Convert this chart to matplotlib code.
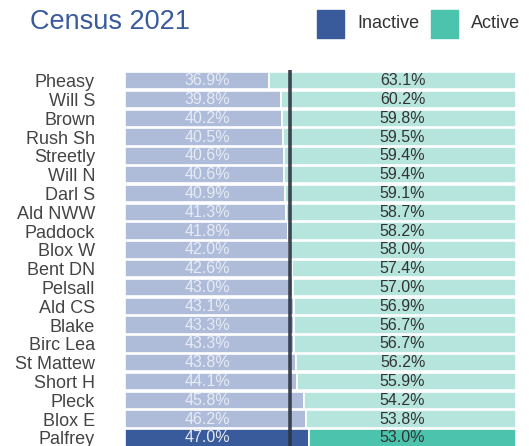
"""Census 2021: inactive vs active share by ward, 100% stacked horizontal bars."""

import matplotlib
matplotlib.use("Agg")
import matplotlib.pyplot as plt
from matplotlib.patches import Rectangle

plt.rcParams["font.family"] = ["Liberation Sans", "DejaVu Sans"]

wards = ["Pheasy", "Will S", "Brown", "Rush Sh", "Streetly", "Will N", "Darl S",
         "Ald NWW", "Paddock", "Blox W", "Bent DN", "Pelsall", "Ald CS", "Blake",
         "Birc Lea", "St Mattew", "Short H", "Pleck", "Blox E", "Palfrey"]
inactive = [36.9, 39.8, 40.2, 40.5, 40.6, 40.6, 40.9, 41.3, 41.8, 42.0,
            42.6, 43.0, 43.1, 43.3, 43.3, 43.8, 44.1, 45.8, 46.2, 47.0]
active = [63.1, 60.2, 59.8, 59.5, 59.4, 59.4, 59.1, 58.7, 58.2, 58.0,
          57.4, 57.0, 56.9, 56.7, 56.7, 56.2, 55.9, 54.2, 53.8, 53.0]
average = 42.2
highlight = "Palfrey"

DARK_IN, LIGHT_IN = "#3a5b9b", "#afbcd9"
DARK_ACT, LIGHT_ACT = "#4bc3ad", "#b5e5dc"

W, H = 529, 446
fig = plt.figure(figsize=(W / 100, H / 100), dpi=100)
ax = fig.add_axes([125 / W, 0, 391 / W, (446 - 70) / H])

ypos = list(range(len(wards)))
c_in = [DARK_IN if w == highlight else LIGHT_IN for w in wards]
c_act = [DARK_ACT if w == highlight else LIGHT_ACT for w in wards]
ax.barh(ypos, inactive, height=0.92, color=c_in, edgecolor="white", linewidth=1.2)
ax.barh(ypos, active, left=inactive, height=0.92, color=c_act,
        edgecolor="white", linewidth=1.2)

for y, a, b in zip(ypos, inactive, active):
    ax.text(21, y, f"{a:.1f}%", ha="center", va="center", fontsize=11.5,
            color="#e6ebf5")
    ax.text(71, y, f"{b:.1f}%", ha="center", va="center", fontsize=11.5,
            color="#333333")

ax.axvline(average, color="#2c3440", linewidth=2.6, alpha=0.9)

ax.set_xlim(0, 100)
ax.set_ylim(19.43, -0.57)
ax.set_yticks(ypos)
ax.set_yticklabels(wards, fontsize=13, color="#444444")
ax.tick_params(axis="y", length=0, pad=21.6)
ax.set_xticks([])
for s in ax.spines.values():
    s.set_visible(False)

# title and legend
fig.text(30 / W, 1 - 22 / H, "Census 2021", fontsize=19.5, color="#3a5b9b",
         ha="left", va="center")
for x0, col, lab, tx in [(317, DARK_IN, "Inactive", 357), (431, DARK_ACT, "Active", 471)]:
    fig.patches.append(Rectangle((x0 / W, 1 - 38 / H), 27 / W, 28 / H,
                                 transform=fig.transFigure, color=col))
    fig.text(tx / W, 1 - 24 / H, lab, fontsize=13, color="#333333",
             ha="left", va="center")

fig.savefig("out.png", dpi=100)
plt.close(fig)
